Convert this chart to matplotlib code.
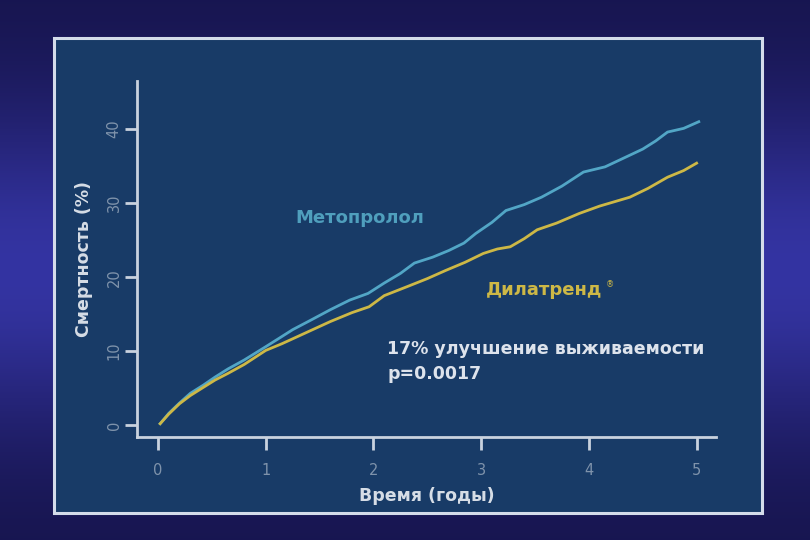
import numpy as np
import matplotlib
matplotlib.use("Agg")
import matplotlib.pyplot as plt
from matplotlib.patches import Rectangle

plt.rcParams['font.family'] = ['DejaVu Sans']

# ---- data ----
years_meto = [0.02, 0.10, 0.20, 0.30, 0.42, 0.53, 0.65, 0.80, 1.00, 1.12, 1.25, 1.42, 1.60,
              1.78, 1.95, 2.10, 2.25, 2.38, 2.55, 2.70, 2.84, 2.95, 3.10, 3.23, 3.40,
              3.56, 3.75, 3.95, 4.15, 4.34, 4.50, 4.62, 4.73, 4.88, 5.02]
mort_meto = [0.2, 1.6, 3.0, 4.3, 5.4, 6.5, 7.6, 8.8, 10.6, 11.7, 12.9, 14.2, 15.6,
             16.9, 17.8, 19.2, 20.5, 21.9, 22.7, 23.6, 24.6, 25.9, 27.4, 29.0, 29.8,
             30.8, 32.3, 34.2, 34.9, 36.2, 37.3, 38.4, 39.6, 40.1, 41.0]

years_dila = [0.02, 0.10, 0.20, 0.30, 0.42, 0.53, 0.65, 0.80, 1.00, 1.15, 1.30, 1.42, 1.60,
              1.80, 1.96, 2.10, 2.31, 2.50, 2.67, 2.85, 3.02, 3.15, 3.27, 3.40, 3.52,
              3.70, 3.91, 4.10, 4.38, 4.55, 4.73, 4.88, 5.00]
mort_dila = [0.2, 1.5, 2.9, 4.0, 5.1, 6.1, 7.0, 8.2, 10.1, 11.0, 12.0, 12.8, 14.0,
             15.2, 16.0, 17.5, 18.7, 19.8, 20.9, 22.0, 23.2, 23.8, 24.1, 25.2, 26.4,
             27.3, 28.6, 29.6, 30.8, 32.0, 33.5, 34.4, 35.4]

x_ticks = [0, 1, 2, 3, 4, 5]
y_ticks = [0, 10, 20, 30, 40]
label_meto = "Метопролол"
label_dila = "Дилатренд"
note_line1 = "17% улучшение выживаемости"
note_line2 = "p=0.0017"
x_title = "Время (годы)"
y_title = "Смертность (%)"

W, H = 810, 540
fig = plt.figure(figsize=(W / 100, H / 100), dpi=100)

# ---- slide background gradient ----
bg = fig.add_axes([0, 0, 1, 1])
t = np.linspace(0, 1, 256)
prof = np.exp(-((t - 0.5) / 0.30) ** 2)
c_dark = np.array([0x16, 0x14, 0x4c]) / 255
c_light = np.array([0x34, 0x34, 0xa2]) / 255
grad = c_dark[None, :] + (c_light - c_dark)[None, :] * prof[:, None]
bg.imshow(grad[:, None, :], aspect='auto', extent=[0, 1, 0, 1], origin='upper')
bg.set_xlim(0, 1); bg.set_ylim(0, 1)
bg.axis('off')

# ---- panel ----
def fx(px):
    return px / W

def fy(py):
    return 1 - py / H

pl, pr, pt, pb = 54, 762, 38, 513
bg.add_patch(Rectangle((fx(pl), fy(pb)), fx(pr) - fx(pl), fy(pt) - fy(pb),
                       facecolor='#183b67', edgecolor='#d4dcea', linewidth=2.2,
                       transform=bg.transAxes, zorder=2))

# ---- main axes ----
ax_l, ax_r, ax_t, ax_b = 137, 716, 81, 437
ax = fig.add_axes([fx(ax_l), fy(ax_b), fx(ax_r) - fx(ax_l), fy(ax_t) - fy(ax_b)])
ax.patch.set_alpha(0)

ax.plot(years_meto, mort_meto, color='#52a6c6', lw=2.0, solid_joinstyle='miter')
ax.plot(years_dila, mort_dila, color='#cdb846', lw=2.0, solid_joinstyle='miter')

ax.set_xlim(-0.195, 5.18)
ax.set_ylim(-1.6, 46.5)

for s in ['top', 'right']:
    ax.spines[s].set_visible(False)
for s in ['left', 'bottom']:
    ax.spines[s].set_color('#c9d2de')
    ax.spines[s].set_linewidth(2.0)

ax.set_xticks(x_ticks)
ax.set_yticks(y_ticks)
ax.set_xticklabels([str(v) for v in x_ticks])
ax.set_yticklabels([str(v) for v in y_ticks], rotation=90, va='center')
ax.tick_params(axis='both', colors='#c9d2de', width=2.0, length=9, direction='out',
               labelcolor='#7f93ab', labelsize=10.5)
ax.tick_params(axis='x', pad=10)
ax.tick_params(axis='y', pad=2)

ax.set_xlabel(x_title, color='#d6dde6', fontsize=12.5, fontweight='bold', labelpad=6)
ax.set_ylabel(y_title, color='#d6dde6', fontsize=12.5, fontweight='bold', labelpad=10)

# ---- annotations ----
ax.text(1.87, 28.0, label_meto, color='#4f9fbd', fontsize=13, fontweight='bold',
        ha='center', va='center')
ax.text(3.04, 18.2, label_dila, color='#cdb846', fontsize=13, fontweight='bold',
        ha='left', va='center')
ax.text(4.16, 19.0, "®", color='#cdb846', fontsize=6, ha='left', va='center')
ax.text(2.13, 10.3, note_line1, color='#dde3ec', fontsize=12.5, fontweight='bold',
        ha='left', va='center')
ax.text(2.13, 6.9, note_line2, color='#dde3ec', fontsize=12.5, fontweight='bold',
        ha='left', va='center')

fig.savefig('out.png', dpi=100)
